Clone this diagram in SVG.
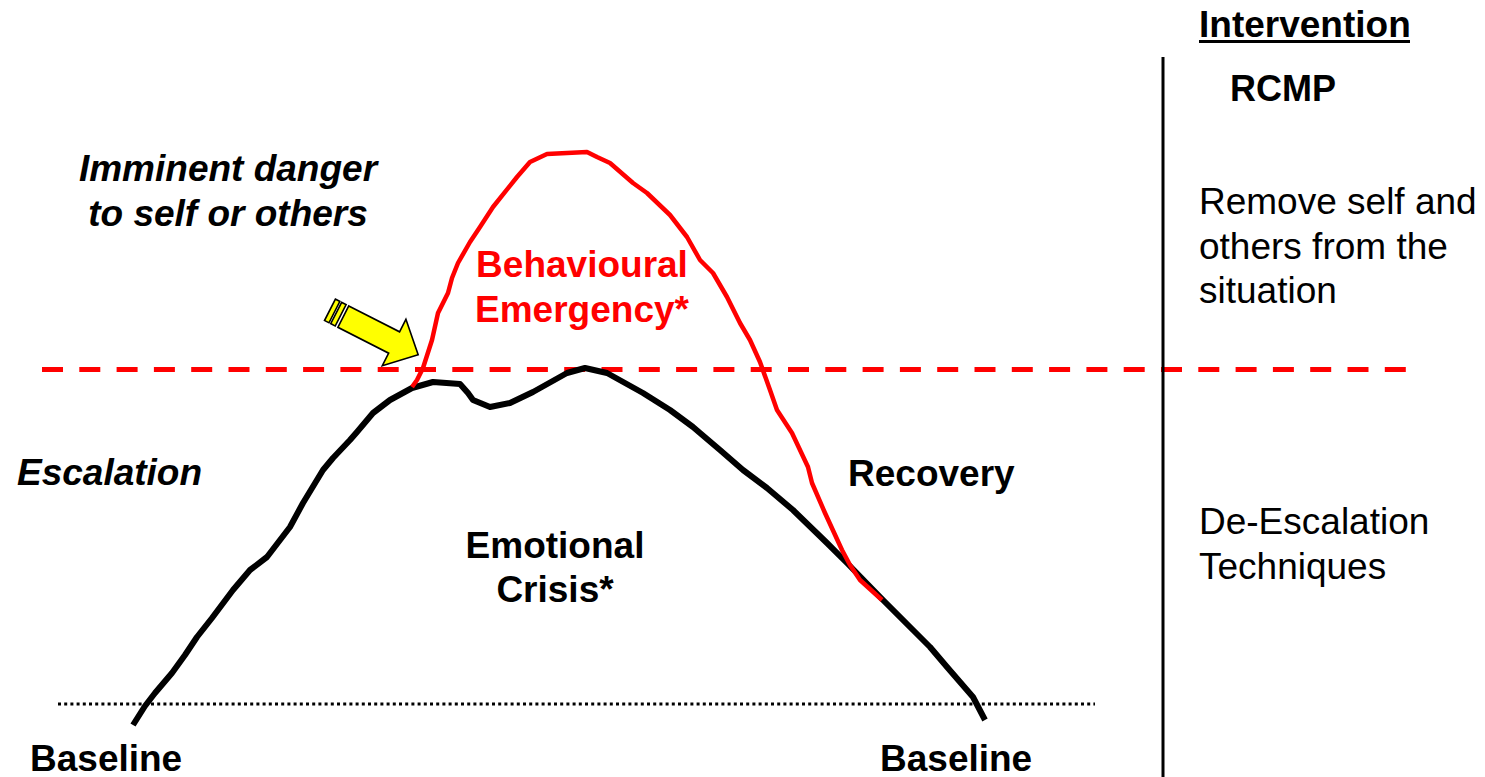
<svg xmlns="http://www.w3.org/2000/svg" width="1485" height="777" viewBox="0 0 1485 777">
<style>
text{font-family:"Liberation Sans",Arial,sans-serif;}
.b{font-weight:bold;font-size:37px;fill:#000;}
.bi{font-weight:bold;font-style:italic;font-size:37px;fill:#000;}
.r{font-size:37px;fill:#000;}
.red{font-weight:bold;font-size:37px;fill:#FF0000;}
.mid{text-anchor:middle;}
.curveK{fill:none;stroke:#000;stroke-width:6;stroke-linejoin:round;stroke-linecap:butt;}
.curveR{fill:none;stroke:#FF0000;stroke-width:4.5;stroke-linejoin:round;}
.yel{fill:#FFFF00;stroke:#000;stroke-width:1.6;stroke-linejoin:miter;}
</style>
<rect width="1485" height="777" fill="#fff"/>
<g id="connectors">
<line id="threshold" x1="42" y1="369.5" x2="1410" y2="369.5" stroke="#FF0000" stroke-width="5" stroke-dasharray="21 16.3"/>
<line id="baseline-line" x1="58" y1="704" x2="1095" y2="704" stroke="#000" stroke-width="3" stroke-dasharray="3 3.2"/>
<line id="divider" x1="1163" y1="57" x2="1163" y2="777" stroke="#000" stroke-width="3"/>
<polyline id="emotional-curve" class="curveK" points="133,725 145,706 155,693 172,673 185,655 197,637 212,618 233,590 250,570 267,557 290,527 303,503 323,470 333,458 350,440 357,432 373,413 390,400 412,388 433,382 460,384 468,393 473,400 490,407 510,403 533,392 567,373 585,368 607,373 643,393 670,410 693,427 700,433 720,450 743,470 767,488 793,510 827,543 847,563 883,600 913,630 930,647 947,667 973,697 985,720"/>
<polyline id="behavioural-curve" class="curveR" points="412,387 417,380 423,368 432,340 438,313 443,303 448,293 452,278 458,263 470,242 480,227 493,207 517,177 530,162 547,154 587,152 597,157 610,163 633,183 647,193 670,215 687,237 700,260 713,273 727,297 740,323 750,340 760,362 770,390 777,410 792,433 808,467 812,483 825,513 842,550 850,565 860,580 882,600"/>
</g>
<g id="arrow" transform="translate(346,318) rotate(27)">
<rect class="yel" x="-18" y="-12" width="5" height="24"/>
<rect class="yel" x="-11" y="-12" width="5" height="24"/>
<polygon class="yel" points="-3,-12 54,-12 54,-26 81,0 54,26 54,12 -3,12"/>
</g>
<g id="intervention-header">
<text class="b" x="1199" y="37">Intervention</text>
<rect x="1199" y="40" width="211" height="3" fill="#000"/>
</g>
<g id="rcmp"><text class="b" x="1230" y="101" style="font-size:36px">RCMP</text></g>
<g id="remove-self">
<text class="r" x="1199" y="214">Remove self and</text>
<text class="r" x="1199" y="259">others from the</text>
<text class="r" x="1199" y="303">situation</text>
</g>
<g id="de-escalation">
<text class="r" x="1199" y="534">De-Escalation</text>
<text class="r" x="1199" y="579">Techniques</text>
</g>
<g id="imminent-danger">
<text class="bi mid" x="228" y="181">Imminent danger</text>
<text class="bi mid" x="228" y="226">to self or others</text>
</g>
<g id="behavioural-emergency">
<text class="red mid" x="582" y="277">Behavioural</text>
<text class="red mid" x="582" y="322">Emergency*</text>
</g>
<g id="escalation"><text class="bi" x="17" y="485">Escalation</text></g>
<g id="recovery"><text class="b" x="848" y="486">Recovery</text></g>
<g id="emotional-crisis">
<text class="b mid" x="555" y="558">Emotional</text>
<text class="b mid" x="555" y="602">Crisis*</text>
</g>
<g id="baseline-left"><text class="b" x="30" y="771">Baseline</text></g>
<g id="baseline-right"><text class="b" x="880" y="771">Baseline</text></g>
</svg>
